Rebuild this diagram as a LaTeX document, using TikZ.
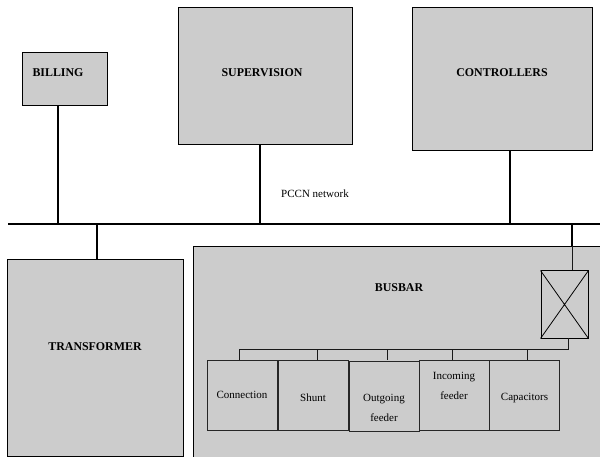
\documentclass[tikz,border=0pt]{standalone}
\usepackage{fontspec}
\setmainfont{Liberation Serif}
\definecolor{boxgray}{RGB}{204,204,204}
\tikzset{
  panel/.style={draw=black, fill=boxgray, line width=1pt, inner sep=0pt},
  sub/.style={draw=black!85, fill=boxgray, line width=0.9pt, inner sep=0pt, minimum width=70pt, minimum height=70pt},
  title/.style={font=\fontsize{11.9}{13}\selectfont\bfseries, inner sep=0pt},
  lab/.style={font=\fontsize{11}{20}\selectfont, inner sep=0pt, align=center},
  conn/.style={line width=2pt},
  busline/.style={line width=2.4pt},
  wire/.style={line width=0.9pt, draw=black!90}
}
\begin{document}
\begin{tikzpicture}[x=1pt,y=-1pt]
\useasboundingbox (0,0) rectangle (600,457);
\clip (0,0) rectangle (600,457);
% top boxes
\node[panel, minimum width=85pt, minimum height=53pt] (billing) at (64.5,79.5) {};
\node[title] (billingt) at (58,73) {BILLING};
\node[panel, minimum width=174pt, minimum height=137pt] (super) at (265,76.5) {};
\node[title] (supert) at (262,73) {SUPERVISION};
\node[panel, minimum width=180pt, minimum height=143pt] (ctrl) at (502,79.5) {};
\node[title] (ctrlt) at (502,73) {CONTROLLERS};
% bus
\coordinate (busL) at (8,224);
\coordinate (busR) at (602,224);
\draw[busline] (busL) -- (busR);
\node[lab] (pccn) at (315,194) {PCCN network};
\draw[conn] (billing.south -| 58,0) -- (58,224);
\draw[conn] (super.south -| 260,0) -- (260,224);
\draw[conn] (ctrl.south -| 510,0) -- (510,224);
% bottom boxes
\node[panel, minimum width=176pt, minimum height=196pt] (trans) at (95,358) {};
\node[title] (transt) at (95,347) {TRANSFORMER};
\node[panel, minimum width=412pt, minimum height=220pt] (busbar) at (399,357) {};
\node[title] (busbart) at (399,288) {BUSBAR};
\coordinate (ttap) at (97,224);
\draw[conn] (ttap) -- (ttap |- trans.north);
\coordinate (btap) at (572,224);
\draw[conn] (btap) -- (btap |- busbar.north);
% switch box
\node[draw=black, line width=1pt, fill=boxgray, minimum width=47pt, minimum height=67pt, inner sep=0pt] (xbox) at (564.5,304.5) {};
\draw[line width=0.8pt] (xbox.north west) -- (xbox.south east) (xbox.north east) -- (xbox.south west);
\draw[wire] (btap |- busbar.north) -- (btap |- xbox.north);
% sub boxes
\node[sub] (conn1) at (242,395) {};
\node[lab] (conn1t) at (242,395) {Connection};
\node[sub] (shunt) at (313,395) {};
\node[lab] (shuntt) at (313,398) {Shunt};
\node[sub] (outf) at (384,396) {};
\node[lab] (outft) at (384,408) {Outgoing\\feeder};
\node[sub] (inf) at (454,395) {};
\node[lab] (inft) at (454,386) {Incoming\\feeder};
\node[sub] (cap) at (524.5,395) {};
\node[lab] (capt) at (524.5,398) {Capacitors};
% distribution wire
\coordinate (xb) at (568,338);
\coordinate (hw) at (568,349);
\draw[wire] (xb) -- (hw) -- (239,349) -- (239,360);
\draw[wire] (317,349) -- (317,360);
\draw[wire] (387,349) -- (387,360);
\draw[wire] (452,349) -- (452,360);
\draw[wire] (527,349) -- (527,360);
\end{tikzpicture}
\end{document}
